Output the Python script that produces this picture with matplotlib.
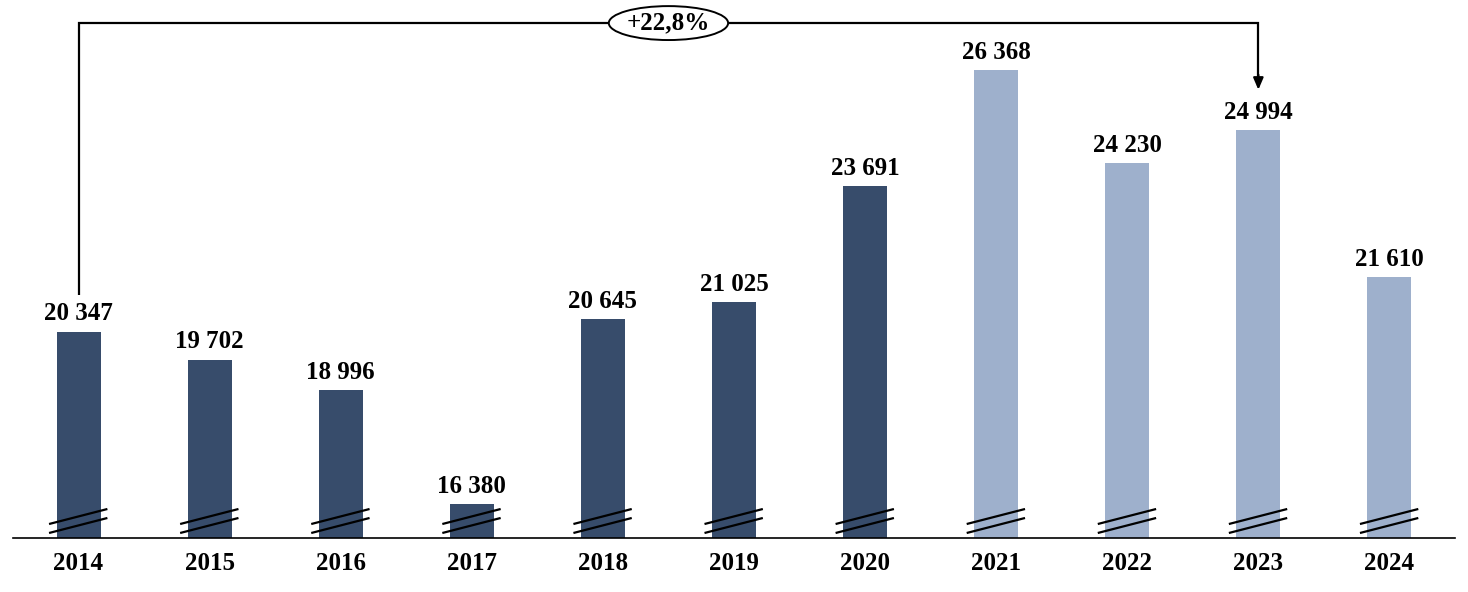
import matplotlib
matplotlib.use("Agg")
import matplotlib.pyplot as plt

years = ["2014", "2015", "2016", "2017", "2018", "2019", "2020", "2021", "2022", "2023", "2024"]
values = [20347, 19702, 18996, 16380, 20645, 21025, 23691, 26368, 24230, 24994, 21610]
n_dark = 7  # 2014-2020 dark, 2021-2024 light
growth_label = "+22,8%"
growth_from, growth_to = 0, 9

DARK = "#374C6B"
LIGHT = "#9EB0CC"
Y_MIN, Y_MAX = 15600, 27980

plt.rcParams["font.family"] = ["Liberation Serif", "DejaVu Serif"]
plt.rcParams["font.weight"] = "bold"

fig = plt.figure(figsize=(14.68, 5.92), dpi=100)
ax = fig.add_axes([13 / 1468, 54 / 592, 1442 / 1468, 538 / 592])

xs = list(range(len(years)))
colors = [DARK if i < n_dark else LIGHT for i in xs]
ax.bar(xs, [v - Y_MIN for v in values], bottom=Y_MIN, width=0.336, color=colors, zorder=2)

for x, v in zip(xs, values):
    label = f"{v:,}".replace(",", " ")
    ax.annotate(label, (x, v), xytext=(0, 4.5), textcoords="offset points",
                ha="center", va="bottom", fontsize=18, fontweight="bold")

# break marks at the bottom of each bar
brk = ax.get_xaxis_transform()
for x in xs:
    for dy in (0.0, 0.0167):
        ax.plot([x - 0.225, x + 0.22], [0.0093 + dy, 0.0372 + dy], color="black",
                lw=1.6, transform=brk, clip_on=False, zorder=3, solid_capstyle="butt")

# growth bracket
top = max(values) * 1.041
px = (Y_MAX - Y_MIN) / 538
y_start = values[growth_from] + 37 * px
y_end = values[growth_to] + 40 * px
ax.plot([growth_from, growth_from, growth_to, growth_to], [y_start, top, top, y_end + 4 * px],
        color="black", lw=1.6, zorder=3, solid_capstyle="butt", solid_joinstyle="miter")
ax.annotate("", xy=(growth_to, y_end), xytext=(growth_to, y_end + 15 * px),
            arrowprops=dict(arrowstyle="-|>,head_length=0.7,head_width=0.3", color="black", lw=1.6,
                            shrinkA=0, shrinkB=0))
ax.text((growth_from + growth_to) / 2, top, growth_label, ha="center", va="center",
        fontsize=18, fontweight="bold", zorder=4,
        bbox=dict(boxstyle="ellipse,pad=0.02", fc="white", ec="black", lw=1.4))

ax.set_xlim(-0.5, len(years) - 0.5)
ax.set_ylim(Y_MIN, Y_MAX)
ax.set_xticks(xs)
ax.set_xticklabels(years, fontsize=18, fontweight="bold")
ax.tick_params(axis="x", length=0, pad=10)
ax.set_yticks([])
for side in ("left", "right", "top"):
    ax.spines[side].set_visible(False)
ax.spines["bottom"].set_linewidth(1.2)
ax.patch.set_visible(False)

fig.savefig("out.png", dpi=100)
